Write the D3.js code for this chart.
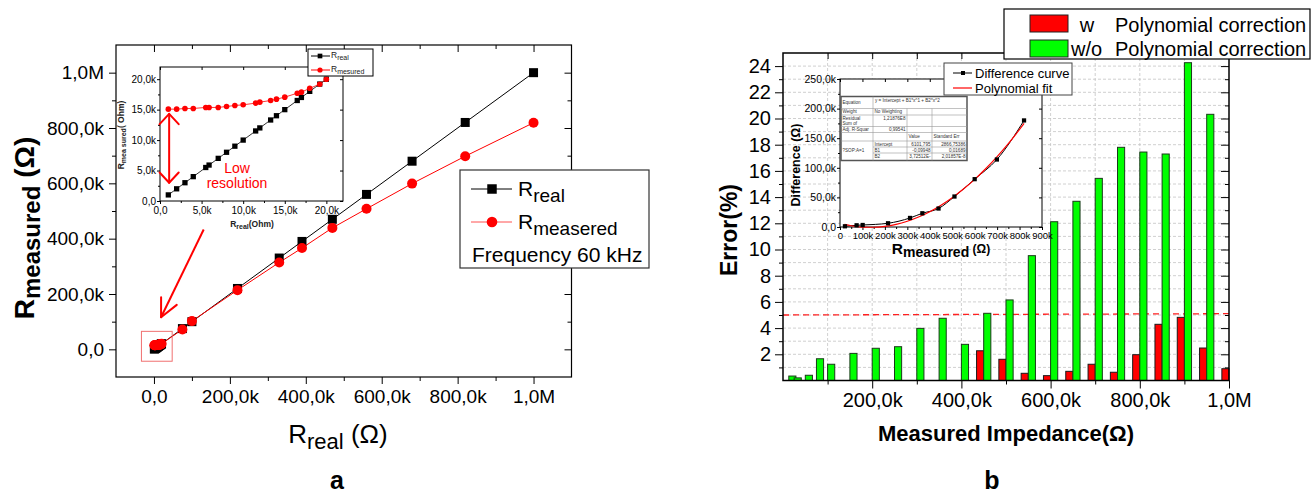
<!DOCTYPE html>
<html lang="en">
<head>
<meta charset="utf-8">
<title>R real vs R measured, and error with / without polynomial correction</title>
<script src="https://d3js.org/d3.v7.min.js"></script>
<style>
  body { margin: 0; background: #fff; }
  svg text { font-family: "Liberation Sans", Arial, Helvetica, sans-serif; }
</style>
</head>
<body>
<script>
// ---------- panel a, inset (low range), Ohm
const insetReal = [1000, 2000, 3000, 4000, 5500, 5900, 7000, 8000, 9000, 10000, 11500, 12000, 13300, 14000, 15000, 16500, 17000, 18000, 19200, 20000];
const insetMeasured = [15080, 15080, 15190, 15190, 15360, 15360, 15360, 15520, 15680, 15790, 16070, 16230, 16500, 16720, 17050, 17700, 17870, 18500, 19180, 20000];
const insetTicks = [0, 5000, 10000, 15000, 20000];

// ---------- panel a, full range, Ohm
const mainReal = [75000, 100000, 220000, 330000, 390000, 470000, 560000, 680000, 820000, 1000000];
const mainMeasured = [72000, 102000, 214000, 314000, 366000, 439000, 508000, 599000, 698000, 819000];
const mainTicks = [0, 200000, 400000, 600000, 800000, 1000000];

// annotations of panel a, in data units
const zoomBox = { x0: -33000, x1: 48000, y0: -43000, y1: 65000 };
const zoomArrow = { x0: 131000, y0: 433000, x1: 18700, y1: 116000 };
const lowResArrow = { x: 1100, y0: 14300, y1: 3000 };

// ---------- panel b, error bars (%)
const impedance = [13000, 25000, 50000, 75000, 100000, 150000, 200000, 250000, 300000, 350000, 400000, 450000, 500000, 550000, 600000, 650000, 700000, 750000, 800000, 850000, 900000, 950000, 1000000];
const errWith = [0, 0, 0, 0, 0, 0, 0, 0, 0, 0, 0, 2.27, 1.62, 0.55, 0.37, 0.70, 1.24, 0.63, 1.97, 4.29, 4.82, 2.48, 0.9];
const errWithout = [0.34, 0.2, 0.4, 1.66, 1.24, 2.07, 2.46, 2.58, 3.98, 4.75, 2.76, 5.13, 6.15, 9.53, 12.12, 13.68, 15.43, 17.8, 17.44, 17.29, 24.26, 20.32, 0];
const errTicks = [2, 4, 6, 8, 10, 12, 14, 16, 18, 20, 22, 24];
const errLimit = [5, 5.1]; // dashed line, left end / right end
const impTicks = [200000, 400000, 600000, 800000, 1000000];

// ---------- panel b, inset
const diffX = [22000, 74000, 101000, 214000, 312000, 367000, 439000, 510000, 600000, 699000, 820000];
const diffY = [1200, 2900, 3400, 6300, 15300, 23200, 31200, 51500, 80800, 114000, 180000];
const fitX = [20000, 50000, 100000, 150000, 200000, 250000, 300000, 350000, 400000, 450000, 500000, 550000, 600000, 650000, 700000, 750000, 800000, 820000];
const fitY = [4300, 2100, -100, -400, 1100, 4500, 9800, 16900, 25900, 36800, 49500, 64100, 80500, 98800, 119000, 141000, 164900, 175000];
const diffTicksY = [0, 50000, 100000, 150000, 200000, 250000];
const diffTicksX = [0, 100000, 200000, 300000, 400000, 500000, 600000, 700000, 800000, 900000];
const tableText = [
  ["Equation", "y = Intercept + B1*x^1 + B2*x^2"],
  ["Weight", "No Weighting"],
  ["Residual|Sum of", "1,21876E8"],
  ["Adj. R-Squar", "0,99541"],
  ["", "", "Value", "Standard Err"],
  ["?SOP:A=1", "Intercept", "6101,795", "2866,75386"],
  ["", "B1", "-0,09948", "0,01689"],
  ["", "B2", "3,72512E-", "2,01857E-8"]
];

const RED = "#ff0000", GREEN = "#00ff00";

const svg = d3.select("body").append("svg").attr("width", 1312).attr("height", 495);

const comma = v => d3.format(".1f")(v).replace(".", ",");
const fmtOhm = v => v === 0 ? "0,0" : v >= 1e6 ? comma(v / 1e6) + "M" : comma(v / 1e3) + "k";

function axis(g, ax, vals, size, pad, fmt, fs) {
  g.call(ax.tickValues(vals).tickSize(size).tickPadding(pad).tickFormat(fmt || (() => "")));
  g.select(".domain").remove();
  g.attr("font-size", fs || 10);
  g.selectAll("line").attr("stroke", "#000");
  g.selectAll("text").attr("fill", "#000");
  return g;
}

function arrowHead(g, x0, y0, x1, y1, len, ang, color, w) {
  const a = Math.atan2(y0 - y1, x0 - x1);
  [-ang, ang].forEach(s => {
    g.append("line").attr("x1", x1).attr("y1", y1)
      .attr("x2", x1 + len * Math.cos(a + s)).attr("y2", y1 + len * Math.sin(a + s))
      .attr("stroke", color).attr("stroke-width", w).attr("stroke-linecap", "round");
  });
}

// ================= panel a =================
const xA = d3.scaleLinear().domain([-1e5, 1.1e6]).range([116, 571.5]);
const yA = d3.scaleLinear().domain([-1e5, 1.1e6]).range([377, 45]);
const minorA = d3.range(1e5, 1e6, 2e5);
const gA = svg.append("g");

axis(gA.append("g").attr("transform", "translate(116,0)"), d3.axisLeft(yA), mainTicks, 7, 5, fmtOhm, 19);
axis(gA.append("g").attr("transform", "translate(116,0)"), d3.axisLeft(yA), minorA, 4, 0);
axis(gA.append("g").attr("transform", "translate(0,377)"), d3.axisBottom(xA), mainTicks, 7, 6, fmtOhm, 19);
axis(gA.append("g").attr("transform", "translate(0,377)"), d3.axisBottom(xA), minorA, 4, 0);
axis(gA.append("g").attr("transform", "translate(571.5,0)"), d3.axisRight(yA), mainTicks, -7, 0);
axis(gA.append("g").attr("transform", "translate(571.5,0)"), d3.axisRight(yA), minorA, -4, 0);
axis(gA.append("g").attr("transform", "translate(0,45)"), d3.axisTop(xA), mainTicks, -7, 0);
axis(gA.append("g").attr("transform", "translate(0,45)"), d3.axisTop(xA), minorA, -4, 0);
gA.append("rect").attr("x", 116).attr("y", 45).attr("width", 455.5).attr("height", 332)
  .attr("fill", "none").attr("stroke", "#000").attr("stroke-width", 1.2);

const realPts = insetReal.concat(mainReal).map(v => [v, v]);
const measPts = insetReal.concat(mainReal).map((v, i) => [v, insetMeasured.concat(mainMeasured)[i]]);
const lineA = d3.line().x(d => xA(d[0])).y(d => yA(d[1]));
gA.append("path").attr("d", lineA(realPts)).attr("fill", "none").attr("stroke", "#000").attr("stroke-width", 1);
gA.append("path").attr("d", lineA(measPts)).attr("fill", "none").attr("stroke", RED).attr("stroke-width", 1);
gA.selectAll(".sqA").data(realPts).join("path")
  .attr("transform", d => `translate(${xA(d[0])},${yA(d[1])})`)
  .attr("d", d3.symbol(d3.symbolSquare, 81)).attr("fill", "#000");
gA.selectAll(".ciA").data(measPts).join("circle")
  .attr("cx", d => xA(d[0])).attr("cy", d => yA(d[1])).attr("r", 5).attr("fill", RED);

// zoom box + arrow
gA.append("rect").attr("x", xA(zoomBox.x0)).attr("y", yA(zoomBox.y1))
  .attr("width", xA(zoomBox.x1) - xA(zoomBox.x0)).attr("height", yA(zoomBox.y0) - yA(zoomBox.y1))
  .attr("fill", "none").attr("stroke", "#f07070").attr("stroke-width", 1);
{
  const x0 = xA(zoomArrow.x0), y0 = yA(zoomArrow.y0), x1 = xA(zoomArrow.x1), y1 = yA(zoomArrow.y1);
  gA.append("line").attr("x1", x0).attr("y1", y0).attr("x2", x1).attr("y2", y1)
    .attr("stroke", RED).attr("stroke-width", 2);
  arrowHead(gA, x0, y0, x1, y1, 20, 0.45, RED, 2);
}

// ---- inset of panel a
const xI = d3.scaleLinear().domain([0, 22000]).range([160, 343]);
const yI = d3.scaleLinear().domain([0, 22000]).range([201, 67]);
const minorI = [2500, 7500, 12500, 17500];
const gI = svg.append("g");
gI.append("rect").attr("x", 160).attr("y", 67).attr("width", 183).attr("height", 134).attr("fill", "#fff");
axis(gI.append("g").attr("transform", "translate(160,0)"), d3.axisLeft(yI), insetTicks, 3, 1, fmtOhm, 10);
axis(gI.append("g").attr("transform", "translate(160,0)"), d3.axisLeft(yI), minorI, 2, 0);
axis(gI.append("g").attr("transform", "translate(0,201)"), d3.axisBottom(xI), insetTicks, 3, 3, fmtOhm, 10);
axis(gI.append("g").attr("transform", "translate(0,201)"), d3.axisBottom(xI), minorI, 2, 0);
axis(gI.append("g").attr("transform", "translate(343,0)"), d3.axisRight(yI), insetTicks, -3, 0);
axis(gI.append("g").attr("transform", "translate(0,67)"), d3.axisTop(xI), insetTicks, -3, 0);
gI.append("rect").attr("x", 160).attr("y", 67).attr("width", 183).attr("height", 134)
  .attr("fill", "none").attr("stroke", "#000").attr("stroke-width", 1);

const iReal = insetReal.map(v => [v, v]);
const iMeas = insetReal.map((v, i) => [v, insetMeasured[i]]);
const lineI = d3.line().x(d => xI(d[0])).y(d => yI(d[1]));
gI.append("path").attr("d", lineI(iReal)).attr("fill", "none").attr("stroke", "#000").attr("stroke-width", 0.8);
gI.append("path").attr("d", lineI(iMeas)).attr("fill", "none").attr("stroke", RED).attr("stroke-width", 0.8);
gI.selectAll(".sqI").data(iReal).join("path")
  .attr("transform", d => `translate(${xI(d[0])},${yI(d[1])})`)
  .attr("d", d3.symbol(d3.symbolSquare, 28)).attr("fill", "#000");
gI.selectAll(".ciI").data(iMeas).join("circle")
  .attr("cx", d => xI(d[0])).attr("cy", d => yI(d[1])).attr("r", 2.8).attr("fill", RED);

{
  const ax = xI(lowResArrow.x), a0 = yI(lowResArrow.y0), a1 = yI(lowResArrow.y1);
  gI.append("line").attr("x1", ax).attr("y1", a0).attr("x2", ax).attr("y2", a1).attr("stroke", RED).attr("stroke-width", 2);
  arrowHead(gI, ax, a1, ax, a0, 14, 0.75, RED, 2);
  arrowHead(gI, ax, a0, ax, a1, 14, 0.75, RED, 2);
}
gI.append("text").attr("x", 237).attr("y", 173).attr("text-anchor", "middle").attr("font-size", 14).attr("fill", RED).text("Low");
gI.append("text").attr("x", 237).attr("y", 188).attr("text-anchor", "middle").attr("font-size", 14).attr("fill", RED).text("resolution");

{
  const t = gI.append("text").attr("transform", "translate(124,135) rotate(-90)").attr("text-anchor", "middle")
    .attr("font-size", 8.5).attr("font-weight", "bold").attr("fill", "#222");
  t.append("tspan").text("R");
  t.append("tspan").attr("font-size", 7).attr("dy", 2).text("mea sured");
  t.append("tspan").attr("dy", -2).text("( Ohm)");
  const u = gI.append("text").attr("x", 252).attr("y", 227).attr("text-anchor", "middle")
    .attr("font-size", 8.5).attr("font-weight", "bold").attr("fill", "#222");
  u.append("tspan").text("R");
  u.append("tspan").attr("font-size", 7).attr("dy", 2).text("real");
  u.append("tspan").attr("dy", -2).text("(Ohm)");
}

// inset legend
{
  const g = gI.append("g");
  g.append("rect").attr("x", 308).attr("y", 49).attr("width", 65).attr("height", 27)
    .attr("fill", "#fff").attr("stroke", "#000").attr("stroke-width", 1);
  g.append("line").attr("x1", 311).attr("x2", 330).attr("y1", 56).attr("y2", 56).attr("stroke", "#000");
  g.append("path").attr("transform", "translate(320,56)").attr("d", d3.symbol(d3.symbolSquare, 22)).attr("fill", "#000");
  g.append("line").attr("x1", 311).attr("x2", 330).attr("y1", 70).attr("y2", 70).attr("stroke", RED);
  g.append("circle").attr("cx", 320).attr("cy", 70).attr("r", 2.6).attr("fill", RED);
  const t1 = g.append("text").attr("x", 331).attr("y", 58).attr("font-size", 8.5).attr("fill", "#222");
  t1.append("tspan").text("R");
  t1.append("tspan").attr("font-size", 7).attr("dy", 2).text("real");
  const t2 = g.append("text").attr("x", 331).attr("y", 72).attr("font-size", 8.5).attr("fill", "#222");
  t2.append("tspan").text("R");
  t2.append("tspan").attr("font-size", 7).attr("dy", 2).text("mesured");
}

// main legend of panel a
{
  const g = gA.append("g");
  g.append("rect").attr("x", 460).attr("y", 170).attr("width", 189).attr("height", 98)
    .attr("fill", "#fff").attr("stroke", "#333").attr("stroke-width", 1.2);
  g.append("line").attr("x1", 471).attr("x2", 512).attr("y1", 189).attr("y2", 189).attr("stroke", "#000");
  g.append("path").attr("transform", "translate(492,189)").attr("d", d3.symbol(d3.symbolSquare, 90)).attr("fill", "#000");
  g.append("line").attr("x1", 471).attr("x2", 512).attr("y1", 222).attr("y2", 222).attr("stroke", "#ff5050");
  g.append("circle").attr("cx", 492).attr("cy", 222).attr("r", 5.3).attr("fill", RED);
  const t1 = g.append("text").attr("x", 518).attr("y", 196).attr("font-size", 21);
  t1.append("tspan").text("R");
  t1.append("tspan").attr("font-size", 19).attr("dy", 6).text("real");
  const t2 = g.append("text").attr("x", 518).attr("y", 229).attr("font-size", 21);
  t2.append("tspan").text("R");
  t2.append("tspan").attr("font-size", 19).attr("dy", 6).text("measered");
  g.append("text").attr("x", 472).attr("y", 262).attr("font-size", 21).text("Frequency 60 kHz");
}

// titles panel a
{
  const t = svg.append("text").attr("transform", "translate(34,228) rotate(-90)").attr("text-anchor", "middle")
    .attr("font-size", 28).attr("font-weight", "bold");
  t.append("tspan").text("R");
  t.append("tspan").attr("font-size", 24).attr("dy", 6).text("measured");
  t.append("tspan").attr("dy", -6).text(" (\u03A9)");
  const u = svg.append("text").attr("x", 338).attr("y", 443).attr("text-anchor", "middle").attr("font-size", 26);
  u.append("tspan").text("R");
  u.append("tspan").attr("font-size", 22).attr("dy", 6).text("real");
  u.append("tspan").attr("dy", -6).text(" (\u03A9)");
  svg.append("text").attr("x", 337).attr("y", 489).attr("text-anchor", "middle")
    .attr("font-size", 25).attr("font-weight", "bold").text("a");
}

// ================= panel b =================
const xB = d3.scaleLinear().domain([0, 1e6]).range([783, 1229]);
const yB = d3.scaleLinear().domain([0, 25]).range([380.5, 53]);
const gB = svg.append("g");

// grid
gB.selectAll(".gy").data(d3.range(1, 25)).join("line")
  .attr("x1", 783).attr("x2", 1229).attr("y1", d => yB(d)).attr("y2", d => yB(d))
  .attr("stroke", "#c4c4c4").attr("stroke-width", 0.8).attr("stroke-dasharray", "3,2");
gB.selectAll(".gx").data(d3.range(1e5, 1e6, 1e5)).join("line")
  .attr("y1", 53).attr("y2", 380.5).attr("x1", d => xB(d)).attr("x2", d => xB(d))
  .attr("stroke", "#c4c4c4").attr("stroke-width", 0.8).attr("stroke-dasharray", "3,2");

// 5 % line
gB.append("line").attr("x1", xB(0)).attr("x2", xB(1e6)).attr("y1", yB(errLimit[0])).attr("y2", yB(errLimit[1]))
  .attr("stroke", "#ff2020").attr("stroke-width", 1.3).attr("stroke-dasharray", "6,4");

// bars
const barW = 16000;
const bars = impedance.map((x, i) => ({ x, w: errWith[i], wo: errWithout[i] }));
gB.selectAll(".bw").data(bars.filter(d => d.w > 0)).join("rect")
  .attr("x", d => xB(d.x - barW)).attr("width", xB(barW) - xB(0))
  .attr("y", d => yB(d.w)).attr("height", d => yB(0) - yB(d.w))
  .attr("fill", RED).attr("stroke", "#1a1a1a").attr("stroke-width", 1);
gB.selectAll(".bwo").data(bars.filter(d => d.wo > 0)).join("rect")
  .attr("x", d => xB(d.x)).attr("width", xB(barW) - xB(0))
  .attr("y", d => yB(d.wo)).attr("height", d => yB(0) - yB(d.wo))
  .attr("fill", GREEN).attr("stroke", "#1a3a1a").attr("stroke-width", 1);

// axes
const minorErr = d3.range(1, 25, 2);
const minorImp = d3.range(1e5, 1e6, 2e5);
axis(gB.append("g").attr("transform", "translate(783,0)"), d3.axisLeft(yB), errTicks, 8, 4, d => d, 20);
axis(gB.append("g").attr("transform", "translate(783,0)"), d3.axisLeft(yB), minorErr, 4, 0);
axis(gB.append("g").attr("transform", "translate(0,380.5)"), d3.axisBottom(xB), impTicks, 8, 4, fmtOhm, 20);
axis(gB.append("g").attr("transform", "translate(0,380.5)"), d3.axisBottom(xB), minorImp, 4, 0);
axis(gB.append("g").attr("transform", "translate(1229,0)"), d3.axisRight(yB), errTicks, -8, 0);
axis(gB.append("g").attr("transform", "translate(1229,0)"), d3.axisRight(yB), minorErr, -4, 0);
axis(gB.append("g").attr("transform", "translate(0,53)"), d3.axisTop(xB), d3.range(1e5, 1e6, 1e5), -6, 0);
gB.append("rect").attr("x", 783).attr("y", 53).attr("width", 446).attr("height", 327.5)
  .attr("fill", "none").attr("stroke", "#000").attr("stroke-width", 1.5);

// ---- inset of panel b
const xC = d3.scaleLinear().domain([0, 900000]).range([840, 1042]);
const yC = d3.scaleLinear().domain([0, 250000]).range([227, 79]);
const gC = svg.append("g");
gC.append("rect").attr("x", 840).attr("y", 79).attr("width", 202).attr("height", 148).attr("fill", "#fff");
axis(gC.append("g").attr("transform", "translate(840,0)"), d3.axisLeft(yC), diffTicksY, 3, 1, fmtOhm, 10.5);
axis(gC.append("g").attr("transform", "translate(840,0)"), d3.axisLeft(yC), d3.range(25000, 250000, 50000), 2, 0);
axis(gC.append("g").attr("transform", "translate(0,227)"), d3.axisBottom(xC), diffTicksX, 3, 2,
  d => d === 0 ? "0" : (d / 1000) + "k", 9.5);
axis(gC.append("g").attr("transform", "translate(0,227)"), d3.axisBottom(xC), d3.range(50000, 900000, 100000), 2, 0);
axis(gC.append("g").attr("transform", "translate(1042,0)"), d3.axisRight(yC), diffTicksY, -3, 0);
axis(gC.append("g").attr("transform", "translate(0,79)"), d3.axisTop(xC), diffTicksX, -3, 0);
gC.append("rect").attr("x", 840).attr("y", 79).attr("width", 202).attr("height", 148)
  .attr("fill", "none").attr("stroke", "#000").attr("stroke-width", 1);

const diffPts = diffX.map((x, i) => [x, diffY[i]]);
const fitPts = fitX.map((x, i) => [x, fitY[i]]);
const lineC = d3.line().x(d => xC(d[0])).y(d => yC(d[1])).curve(d3.curveMonotoneX);
gC.append("path").attr("d", lineC(diffPts)).attr("fill", "none").attr("stroke", "#000").attr("stroke-width", 1);
gC.append("path").attr("d", lineC(fitPts)).attr("fill", "none").attr("stroke", RED).attr("stroke-width", 1.2);
gC.selectAll(".sqC").data(diffPts).join("path")
  .attr("transform", d => `translate(${xC(d[0])},${yC(d[1])})`)
  .attr("d", d3.symbol(d3.symbolSquare, 18)).attr("fill", "#000");

// fit table
{
  const g = gC.append("g");
  const cx = [841, 873, 907, 932, 967];
  const ry = [96.5, 108.5, 115, 126.5, 132.5, 141, 147, 153, 160.5];
  g.append("rect").attr("x", cx[0]).attr("y", ry[0]).attr("width", cx[4] - cx[0]).attr("height", ry[8] - ry[0])
    .attr("fill", "#fff").attr("stroke", "#555").attr("stroke-width", 1.5);
  ry.slice(1, 8).forEach((y, i) => {
    const x0 = (i === 5 || i === 6) ? cx[1] : cx[0];
    g.append("line").attr("x1", x0).attr("x2", cx[4]).attr("y1", y).attr("y2", y).attr("stroke", "#999").attr("stroke-width", 0.6);
  });
  g.append("line").attr("x1", cx[1]).attr("x2", cx[1]).attr("y1", ry[0]).attr("y2", ry[8]).attr("stroke", "#999").attr("stroke-width", 0.6);
  [cx[2], cx[3]].forEach(x => g.append("line").attr("x1", x).attr("x2", x).attr("y1", ry[1]).attr("y2", ry[8])
    .attr("stroke", "#999").attr("stroke-width", 0.6));
  const cell = (txt, x, y, anchor) => g.append("text").attr("x", x).attr("y", y).attr("text-anchor", anchor)
    .attr("font-size", 4.6).attr("fill", "#333").text(txt);
  tableText.forEach((row, r) => {
    const yMid = (ry[r] + ry[r + 1]) / 2 + 1.6;
    row.forEach((txt, c) => {
      if (!txt) return;
      if (c === 0 && txt.includes("|")) {
        const [a, b] = txt.split("|");
        cell(a, cx[0] + 1.5, ry[r] + 4.5, "start");
        cell(b, cx[0] + 1.5, ry[r] + 9.5, "start");
      } else if (c === 0 && r === 5) {
        cell(txt, cx[0] + 1.5, (ry[5] + ry[8]) / 2 + 1.6, "start");
      } else if (r === 0 && c === 1) {
        cell(txt, cx[1] + 2, ry[0] + 5, "start");
      } else if ((c === 1 && (r === 2 || r === 3)) || (c >= 2 && r >= 5)) {
        cell(txt, cx[c + 1] - 1.5, r === 2 ? ry[r] + 4.5 : yMid, "end");
      } else {
        cell(txt, cx[c] + 1.5, yMid, "start");
      }
    });
  });
}

// inset legend
{
  const g = gC.append("g");
  g.append("rect").attr("x", 944).attr("y", 63).attr("width", 128).attr("height", 32)
    .attr("fill", "#fff").attr("stroke", "#444").attr("stroke-width", 1);
  g.append("line").attr("x1", 953).attr("x2", 972).attr("y1", 73).attr("y2", 73).attr("stroke", "#000");
  g.append("path").attr("transform", "translate(963,73)").attr("d", d3.symbol(d3.symbolSquare, 16)).attr("fill", "#000");
  g.append("line").attr("x1", 953).attr("x2", 972).attr("y1", 88).attr("y2", 88).attr("stroke", RED).attr("stroke-width", 1.2);
  g.append("text").attr("x", 975).attr("y", 77.5).attr("font-size", 13).text("Difference curve");
  g.append("text").attr("x", 975).attr("y", 92.5).attr("font-size", 13).text("Polynomial fit");
}

// inset titles
{
  gC.append("text").attr("transform", "translate(800,165) rotate(-90)").attr("text-anchor", "middle")
    .attr("font-size", 12.5).attr("font-weight", "bold").text("Difference (\u03A9)");
  const u = gC.append("text").attr("x", 941).attr("y", 254).attr("text-anchor", "middle")
    .attr("font-size", 15.5).attr("font-weight", "bold");
  u.append("tspan").text("R");
  u.append("tspan").attr("font-size", 14).attr("dy", 3).text("measured");
  u.append("tspan").attr("font-size", 12).attr("dy", -4).text(" (\u03A9)");
}

// legend of panel b
{
  const g = svg.append("g");
  g.append("rect").attr("x", 1004).attr("y", 9).attr("width", 306).attr("height", 50)
    .attr("fill", "#fff").attr("stroke", "#000").attr("stroke-width", 1.2);
  g.append("rect").attr("x", 1030).attr("y", 15).attr("width", 38).attr("height", 17).attr("fill", RED).attr("stroke", "#222");
  g.append("rect").attr("x", 1030).attr("y", 40).attr("width", 38).attr("height", 17).attr("fill", GREEN).attr("stroke", "#222");
  g.append("text").attr("x", 1087).attr("y", 32).attr("text-anchor", "middle").attr("font-size", 20).text("w");
  g.append("text").attr("x", 1071).attr("y", 56).attr("font-size", 20).text("w/o");
  g.append("text").attr("x", 1115).attr("y", 32).attr("font-size", 20).text("Polynomial correction");
  g.append("text").attr("x", 1115).attr("y", 56).attr("font-size", 20).text("Polynomial correction");
}

// titles panel b
svg.append("text").attr("transform", "translate(737,230) rotate(-90)").attr("text-anchor", "middle")
  .attr("font-size", 23).attr("font-weight", "bold").text("Error(%)");
svg.append("text").attr("x", 1006).attr("y", 441).attr("text-anchor", "middle")
  .attr("font-size", 22).attr("font-weight", "bold").text("Measured Impedance(\u03A9)");
svg.append("text").attr("x", 992).attr("y", 489).attr("text-anchor", "middle")
  .attr("font-size", 25).attr("font-weight", "bold").text("b");
</script>
</body>
</html>
